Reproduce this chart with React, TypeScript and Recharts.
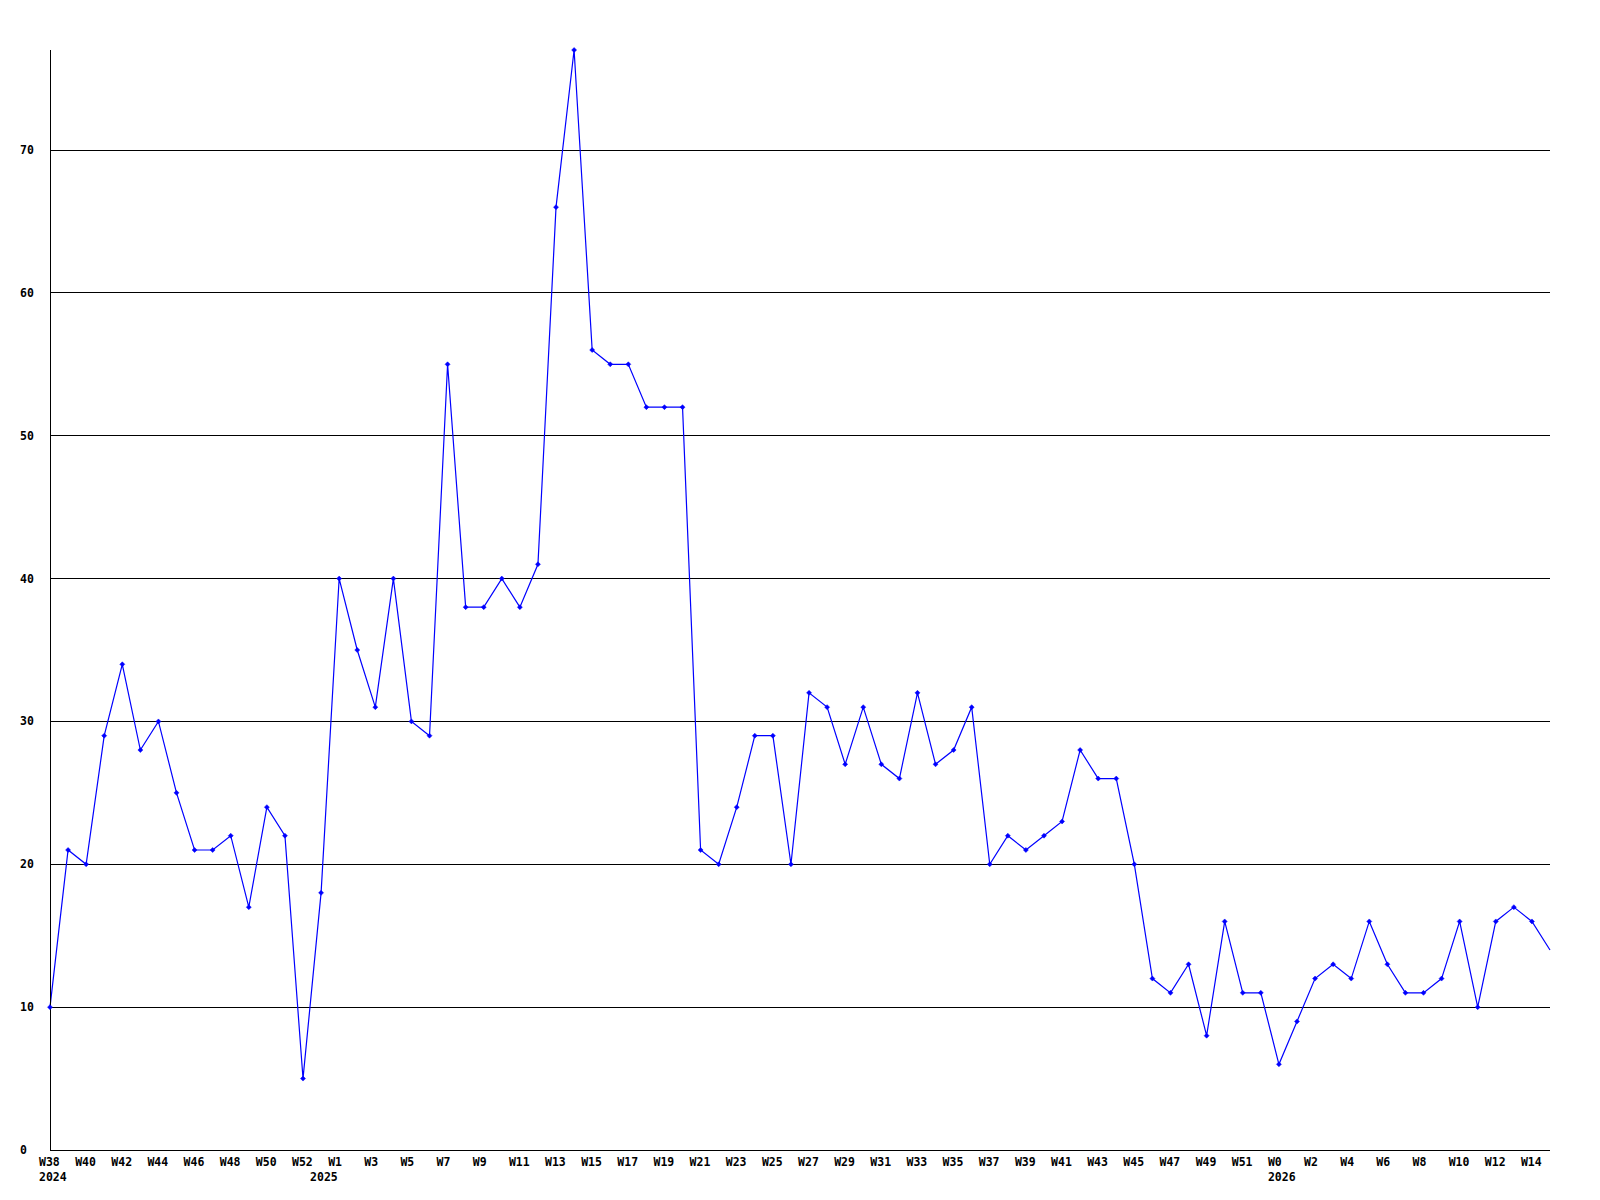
import React from 'react';
import { LineChart, Line, XAxis, YAxis, CartesianGrid } from 'recharts';

// weekly values, one array per year
const weeks2024 = [38, 39, 40, 41, 42, 43, 44, 45, 46, 47, 48, 49, 50, 51, 52];
const values2024 = [10, 21, 20, 29, 34, 28, 30, 25, 21, 21, 22, 17, 24, 22, 5];

const weeks2025 = [
  0, 1, 2, 3, 4, 5, 6, 7, 8, 9, 10, 11, 12, 13, 14, 15, 16, 17, 18, 19, 20, 21, 22, 23, 24, 25, 26,
  27, 28, 29, 30, 31, 32, 33, 34, 35, 36, 37, 38, 39, 40, 41, 42, 43, 44, 45, 46, 47, 48, 49, 50, 51, 52,
];
const values2025 = [
  18, 40, 35, 31, 40, 30, 29, 55, 38, 38, 40, 38, 41, 66, 77, 56, 55, 55, 52, 52, 52, 21, 20, 24, 29, 29, 20,
  32, 31, 27, 31, 27, 26, 32, 27, 28, 31, 20, 22, 21, 22, 23, 28, 26, 26, 20, 12, 11, 13, 8, 16, 11, 11,
];

const weeks2026 = [0, 1, 2, 3, 4, 5, 6, 7, 8, 9, 10, 11, 12, 13, 14, 15];
const values2026 = [6, 9, 12, 13, 12, 16, 13, 11, 11, 12, 16, 10, 16, 17, 16, 14];

const years = ['2024', '2025', '2026'];
const yTicks = [0, 10, 20, 30, 40, 50, 60, 70];

const FONT = '"DejaVu Sans Mono", "Liberation Mono", monospace';

const blocks = [
  { year: years[0], weeks: weeks2024, values: values2024 },
  { year: years[1], weeks: weeks2025, values: values2025 },
  { year: years[2], weeks: weeks2026, values: values2026 },
];

const data: { idx: number; week: string; value: number }[] = [];
const yearStarts: { idx: number; year: string }[] = [];
blocks.forEach((b) => {
  yearStarts.push({ idx: data.length, year: b.year });
  b.weeks.forEach((w, i) => {
    data.push({ idx: data.length, week: 'W' + w, value: b.values[i] });
  });
});

const lastIdx = data.length - 1;
const weekTicks = data.filter((d) => d.idx % 2 === 0 && d.idx < lastIdx).map((d) => d.idx);

const WeekTick = (props: any) => {
  const { x, payload } = props;
  const d = data[payload.value];
  return (
    <text x={x - 11} y={1166} fontFamily={FONT} fontWeight="bold" fontSize={11.5} fill="#000" textAnchor="start">
      {d ? d.week : ''}
    </text>
  );
};

const YearTick = (props: any) => {
  const { x, payload } = props;
  const ys = yearStarts.find((s) => s.idx === payload.value);
  return (
    <text x={x - 11} y={1181} fontFamily={FONT} fontWeight="bold" fontSize={11.5} fill="#000" textAnchor="start">
      {ys ? ys.year : ''}
    </text>
  );
};

const ValueTick = (props: any) => {
  const { y, payload } = props;
  return (
    <text x={20} y={y + 4} fontFamily={FONT} fontWeight="bold" fontSize={11.5} fill="#000" textAnchor="start">
      {payload.value}
    </text>
  );
};

const Marker = (props: any) => {
  const { cx, cy, index } = props;
  if (index === lastIdx || cx == null) return null;
  return (
    <polygon
      key={index}
      points={`${cx},${cy - 2.5} ${cx + 2.5},${cy} ${cx},${cy + 2.5} ${cx - 2.5},${cy}`}
      fill="#0000ff"
      stroke="#0000ff"
      strokeWidth={0.5}
    />
  );
};

export default function App() {
  return (
    <div style={{ position: 'absolute', left: 0, top: 0, width: 1600, height: 1200, background: '#fff' }}>
      <LineChart width={1600} height={1200} data={data} margin={{ top: 50, right: 50, left: 0, bottom: 0 }}>
        <CartesianGrid
          vertical={false}
          horizontalValues={yTicks.slice(1)}
          stroke="#000"
          strokeWidth={1}
          shapeRendering="crispEdges"
        />
        <XAxis
          dataKey="idx"
          type="number"
          domain={[0, lastIdx]}
          ticks={weekTicks}
          interval={0}
          height={15}
          tickLine={false}
          axisLine={{ stroke: '#000', shapeRendering: 'crispEdges' }}
          tick={<WeekTick />}
        />
        <XAxis
          xAxisId="year"
          dataKey="idx"
          type="number"
          domain={[0, lastIdx]}
          ticks={yearStarts.map((s) => s.idx)}
          interval={0}
          height={35}
          tickLine={false}
          axisLine={false}
          tick={<YearTick />}
        />
        <YAxis
          type="number"
          domain={[0, 77]}
          ticks={yTicks}
          interval={0}
          width={50}
          tickLine={false}
          axisLine={{ stroke: '#000', shapeRendering: 'crispEdges' }}
          tick={<ValueTick />}
        />
        <Line
          type="linear"
          dataKey="value"
          stroke="#0000ff"
          strokeWidth={1.2}
          dot={<Marker />}
          activeDot={false}
          isAnimationActive={false}
        />
      </LineChart>
    </div>
  );
}
